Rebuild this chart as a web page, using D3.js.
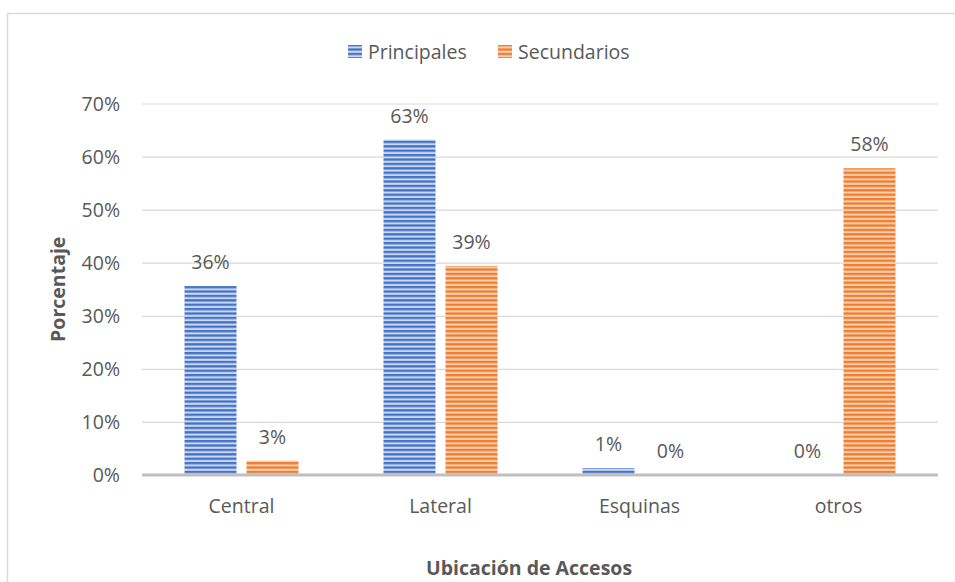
<!DOCTYPE html>
<html><head><meta charset="utf-8">
<script src="https://cdn.jsdelivr.net/npm/d3@7"></script>
<style>body{margin:0;background:#fff}svg{display:block}text{font-family:"Open Sans",sans-serif;fill:#595959}</style>
</head><body>
<script>
const categories = ["Central", "Lateral", "Esquinas", "otros"];
const seriesNames = ["Principales", "Secundarios"];
const principales = [35.6, 63.2, 1.3, 0];
const secundarios = [2.7, 39.4, 0, 57.8];
const yTicks = [0, 10, 20, 30, 40, 50, 60, 70];
const xTitle = "Ubicación de Accesos";
const yTitle = "Porcentaje";

const W = 955, H = 582, FS = 19.5;
const svg = d3.select("body").append("svg").attr("width", W).attr("height", H);
const defs = svg.append("defs");
const colors = {Principales: ["#4472C4", "#c9d7f1"], Secundarios: ["#ED7D31", "#f9cfae"]};
seriesNames.forEach((s, i) => {
  const p = defs.append("pattern").attr("id", "pat" + i).attr("patternUnits", "userSpaceOnUse")
    .attr("width", 8).attr("height", 4.4);
  p.append("rect").attr("width", 8).attr("height", 4.4).attr("fill", colors[s][1]);
  p.append("rect").attr("width", 8).attr("y", 0).attr("height", 2.3).attr("fill", colors[s][0]);
});

// chart border
svg.append("rect").attr("x", 7.5).attr("y", 13.5).attr("width", 1000).attr("height", 700)
  .attr("fill", "none").attr("stroke", "#d9d9d9").attr("stroke-width", 1.5);

const m = {left: 142, right: 938, top: 103.5, bottom: 475};
const x0 = d3.scaleBand().domain(categories).range([m.left, m.right]).paddingInner(0).paddingOuter(0);
const y = d3.scaleLinear().domain([0, 70]).range([m.bottom, m.top]);
const groupW = 114, barW = 52, gap = 10;
const x1 = d3.scaleBand().domain(seriesNames).range([0, groupW]).paddingInner(gap / (barW + gap)).paddingOuter(0);

// gridlines
const gridAxis = d3.axisLeft(y).tickValues(yTicks.filter(t => t > 0)).tickSize(-(m.right - m.left)).tickFormat("");
const g = svg.append("g").attr("transform", `translate(${m.left},0)`).call(gridAxis);
g.select(".domain").remove();
g.selectAll("line").attr("stroke", "#d9d9d9").attr("stroke-width", 1.2);

// y labels
const yAx = d3.axisLeft(y).tickValues(yTicks).tickSize(0).tickPadding(0).tickFormat(d => d + "%");
const ya = svg.append("g").attr("transform", `translate(120,0)`).call(yAx);
ya.select(".domain").remove();
ya.selectAll("text").attr("font-size", FS).attr("font-family", "Open Sans").attr("fill", "#595959").attr("dy", "0.35em");

// bars
const data = categories.map((c, i) => ({c, vals: [principales[i], secundarios[i]]}));
const grp = svg.append("g").selectAll("g").data(data).join("g")
  .attr("transform", d => `translate(${x0(d.c) + (x0.bandwidth() - groupW) / 2},0)`);
grp.selectAll("rect").data(d => d.vals.map((v, i) => ({s: seriesNames[i], v, i}))).join("rect")
  .attr("x", d => x1(d.s)).attr("width", x1.bandwidth())
  .attr("y", d => y(d.v)).attr("height", d => y(0) - y(d.v))
  .attr("fill", d => `url(#pat${d.i})`);
grp.selectAll("text").data(d => d.vals.map((v, i) => ({s: seriesNames[i], v, i}))).join("text")
  .attr("x", d => x1(d.s) + x1.bandwidth() / 2).attr("y", d => y(d.v) - 17)
  .attr("text-anchor", "middle").attr("font-size", FS)
  .text(d => Math.round(d.v) + "%");

// x axis line
svg.append("line").attr("x1", m.left).attr("x2", m.right).attr("y1", y(0)).attr("y2", y(0))
  .attr("stroke", "#bfbfbf").attr("stroke-width", 3);

// x labels
const xAx = d3.axisBottom(x0).tickSize(0).tickPadding(0);
const xa = svg.append("g").attr("transform", `translate(0,513)`).call(xAx);
xa.select(".domain").remove();
xa.selectAll("text").attr("font-size", FS).attr("font-family", "Open Sans").attr("fill", "#595959").attr("dy", "0");

// axis titles
svg.append("text").attr("x", (m.left + m.right) / 2 - 11).attr("y", 575).attr("text-anchor", "middle")
  .attr("font-size", FS).attr("font-weight", "bold").text(xTitle);
svg.append("text").attr("transform", `translate(65,${(m.top + m.bottom) / 2}) rotate(-90)`)
  .attr("text-anchor", "middle").attr("font-size", FS).attr("font-weight", "bold").text(yTitle);

// legend
const leg = svg.append("g");
const legX = [348, 498];
seriesNames.forEach((s, i) => {
  leg.append("rect").attr("x", legX[i]).attr("y", 45).attr("width", 14).attr("height", 13).attr("fill", `url(#pat${i})`);
  leg.append("text").attr("x", legX[i] + 20).attr("y", 59).attr("font-size", FS).text(s);
});
</script>
</body></html>
